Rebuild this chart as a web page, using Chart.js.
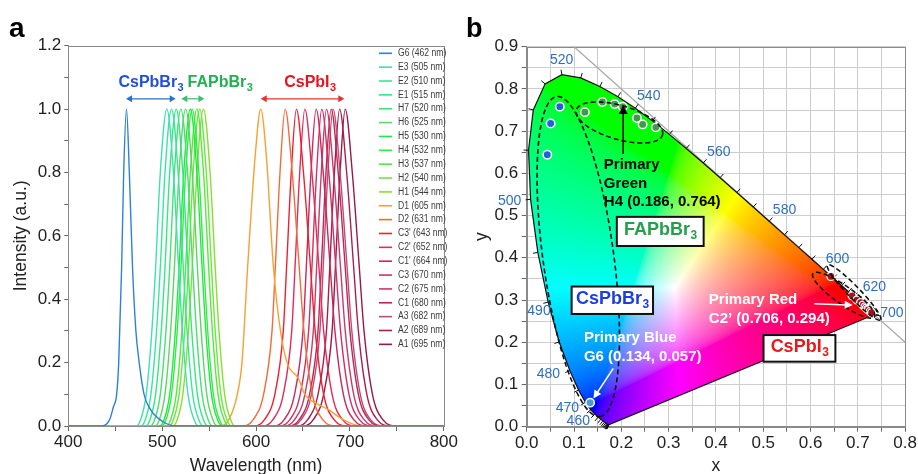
<!DOCTYPE html>
<html>
<head>
<meta charset="utf-8">
<script src="https://cdn.jsdelivr.net/npm/chart.js@4.4.1/dist/chart.umd.min.js"></script>
<style>
  html, body { margin: 0; padding: 0; background: #fff; }
  #wrap { position: relative; width: 918px; height: 474px; overflow: hidden; background: #fff; }
  canvas { position: absolute; top: 0; }
  #ca { left: 0; }
  #cb { left: 459px; }
</style>
</head>
<body>
<div id="wrap">
  <canvas id="ca" width="459" height="474"></canvas>
  <canvas id="cb" width="459" height="474"></canvas>
</div>
<script>
// ---------- Panel a: normalised PL spectra ----------
const SAMPLE_NAMES = ['G6', 'E3', 'E2', 'E1', 'H7', 'H6', 'H5', 'H4', 'H3', 'H2', 'H1',
  'D1', 'D2', "C3'", "C2'", "C1'", 'C3', 'C2', 'C1', 'A3', 'A2', 'A1'];
const PEAK_NM = [462, 505, 510, 515, 520, 525, 530, 532, 537, 540, 544,
  605, 631, 643, 652, 664, 670, 675, 680, 682, 689, 695];

// intensity levels at which each spectrum's wavelength is listed
const LEVELS = [0, 0.02, 0.1, 0.3, 0.5, 0.8, 1, 0.8, 0.5, 0.3, 0.1, 0.02, 0];
const G6_I = [0, 0.02, 0.06, 0.1, 0.2, 0.5, 0.8, 1, 0.8, 0.5, 0.3, 0.2, 0.1, 0.05, 0.015, 0];
const D1_I = [0, 0.02, 0.1, 0.2, 0.5, 0.85, 1, 0.85, 0.5, 0.3, 0.2, 0.15, 0.1, 0.07, 0.05, 0.025, 0.01, 0];

const CURVE_NM = [
  [436, 444, 448, 451.5, 453.7, 456.8, 459, 462, 465, 468.4, 472, 475.5, 480.7, 488, 500, 515],
  [472, 477, 483, 489, 493, 498, 505, 512, 517.5, 521.5, 527.5, 534, 539],
  [477, 482, 488, 494, 498, 503, 510, 517, 522.5, 526.5, 532.5, 539, 544],
  [482, 487, 493, 499, 503, 508, 515, 522, 527.5, 531.5, 537.5, 544, 549],
  [487, 492, 498, 504, 508, 513, 520, 527, 532.5, 536.5, 542.5, 549, 554],
  [492, 497, 503, 509, 513, 518, 525, 532, 537.5, 541.5, 547.5, 554, 559],
  [497, 502, 508, 514, 518, 523, 530, 537, 542.5, 546.5, 552.5, 559, 564],
  [499, 504, 510, 516, 520, 525, 532, 539, 544.5, 548.5, 554.5, 561, 566],
  [504, 509, 515, 521, 525, 530, 537, 544, 549.5, 553.5, 559.5, 566, 571],
  [507, 512, 518, 524, 528, 533, 540, 547, 552.5, 556.5, 562.5, 569, 574],
  [511, 516, 522, 528, 532, 537, 544, 551, 556.5, 560.5, 566.5, 573, 578],
  [560, 571, 580, 585, 591, 599, 605, 611, 618.5, 626, 633, 645, 652, 665, 678, 690, 700, 712],
  [586, 597, 608, 617, 620.5, 625.5, 631, 638.5, 646, 651, 660, 671, 686],
  [598, 609, 620, 629, 632.5, 637.5, 643, 650.5, 658, 663, 672, 683, 698],
  [607, 618, 629, 638, 641.5, 646.5, 652, 659.5, 667, 672, 681, 692, 707],
  [619, 630, 641, 650, 653.5, 658.5, 664, 671.5, 679, 684, 693, 704, 719],
  [625, 636, 647, 656, 659.5, 664.5, 670, 677.5, 685, 690, 699, 710, 725],
  [630, 641, 652, 661, 664.5, 669.5, 675, 682.5, 690, 695, 704, 715, 730],
  [635, 646, 657, 666, 669.5, 674.5, 680, 687.5, 695, 700, 709, 720, 735],
  [637, 648, 659, 668, 671.5, 676.5, 682, 689.5, 697, 702, 711, 722, 737],
  [644, 655, 666, 675, 678.5, 683.5, 689, 696.5, 704, 709, 718, 729, 744],
  [650, 661, 672, 681, 684.5, 689.5, 695, 702.5, 710, 715, 724, 735, 750]
];
const CURVE_I = CURVE_NM.map((_, i) => i === 0 ? G6_I : (i === 11 ? D1_I : LEVELS));

const LINE_COLORS = ['#2f80d8', '#3ee0b0', '#38e69a', '#30ea80', '#44e070', '#5fd462', '#22e648',
  '#2cf03a', '#52ea3c', '#6ee640', '#86e030', '#f8a030', '#f46a3a', '#ee2030', '#e02c58',
  '#c8285a', '#d22f62', '#c83a68', '#b82850', '#c04a78', '#a82048', '#981848'];

// family ranges (nm) marked by the double arrows
const FAMILY_NAMES = ['CsPbBr', 'FAPbBr', 'CsPbI'];
const FAMILY_FROM_NM = [461.5, 520.4, 605];
const FAMILY_TO_NM = [514.4, 545, 694];

// ---------- Panel b: CIE 1931 chromaticity ----------
const LOCUS_NM = [380, 385, 390, 395, 400, 405, 410, 415, 420, 425, 430, 435, 440, 445, 450, 455, 460, 465,
  470, 475, 480, 485, 490, 495, 500, 505, 510, 515, 520, 525, 530, 535, 540, 545, 550, 555, 560, 565,
  570, 575, 580, 585, 590, 595, 600, 605, 610, 615, 620, 625, 630, 635, 640, 645, 650, 655, 660, 665,
  670, 675, 680, 685, 690, 695, 700];
const LOCUS_X = [0.1741, 0.1740, 0.1738, 0.1736, 0.1733, 0.1730, 0.1726, 0.1721, 0.1714, 0.1703, 0.1689,
  0.1669, 0.1644, 0.1611, 0.1566, 0.1510, 0.1440, 0.1355, 0.1241, 0.1096, 0.0913, 0.0687, 0.0454,
  0.0235, 0.0082, 0.0039, 0.0139, 0.0389, 0.0743, 0.1142, 0.1547, 0.1929, 0.2296, 0.2658, 0.3016,
  0.3373, 0.3731, 0.4087, 0.4441, 0.4788, 0.5125, 0.5448, 0.5752, 0.6029, 0.6270, 0.6482, 0.6658,
  0.6801, 0.6915, 0.7006, 0.7079, 0.7140, 0.7190, 0.7230, 0.7260, 0.7283, 0.7300, 0.7311, 0.7320,
  0.7327, 0.7334, 0.7340, 0.7344, 0.7346, 0.7347];
const LOCUS_Y = [0.0050, 0.0050, 0.0049, 0.0049, 0.0048, 0.0048, 0.0048, 0.0048, 0.0051, 0.0058, 0.0069,
  0.0086, 0.0109, 0.0138, 0.0177, 0.0227, 0.0297, 0.0399, 0.0578, 0.0868, 0.1327, 0.2007, 0.2950,
  0.4127, 0.5384, 0.6548, 0.7502, 0.8120, 0.8338, 0.8262, 0.8059, 0.7816, 0.7543, 0.7243, 0.6923,
  0.6589, 0.6245, 0.5896, 0.5547, 0.5202, 0.4866, 0.4544, 0.4242, 0.3965, 0.3725, 0.3514, 0.3340,
  0.3197, 0.3083, 0.2993, 0.2920, 0.2859, 0.2809, 0.2770, 0.2740, 0.2717, 0.2700, 0.2689, 0.2680,
  0.2673, 0.2666, 0.2660, 0.2656, 0.2654, 0.2653];

// colour coordinates of the emitters
const CSPBBR_X = [0.134, 0.0435, 0.0506, 0.070];
const CSPBBR_Y = [0.057, 0.644, 0.718, 0.758];
const FAPBBR_X = [0.123, 0.160, 0.186, 0.203, 0.233, 0.245, 0.273];
const FAPBBR_Y = [0.745, 0.769, 0.764, 0.758, 0.731, 0.716, 0.709];
const CSPBI_X = [0.643, 0.688, 0.698, 0.706, 0.711, 0.715, 0.718, 0.721, 0.722, 0.726, 0.729];
const CSPBI_Y = [0.356, 0.310, 0.300, 0.294, 0.288, 0.284, 0.281, 0.278, 0.277, 0.273, 0.270];

// wavelength captions along the locus
const WL_LABELS = ['520', '540', '560', '580', '600', '620', '700', '500', '490', '480', '470', '460'];
const WL_LABEL_X = [0.074, 0.258, 0.406, 0.545, 0.657, 0.735, 0.772, -0.036, 0.026, 0.046, 0.086, 0.109];
const WL_LABEL_Y = [0.867, 0.782, 0.650, 0.514, 0.397, 0.330, 0.268, 0.535, 0.273, 0.125, 0.044, 0.012];

const FONT = '"Liberation Sans", Arial, Helvetica, sans-serif';
Chart.defaults.font.family = FONT;
Chart.defaults.color = '#222';

// ---------- drawing helpers ----------
function chem(ctx, x, y, main, sub, size, color, align) {
  ctx.save();
  ctx.fillStyle = color;
  ctx.textBaseline = 'middle';
  ctx.textAlign = 'left';
  const fMain = `bold ${size}px ${FONT}`;
  const fSub = `bold ${Math.round(size * 0.68)}px ${FONT}`;
  ctx.font = fMain;
  const w1 = ctx.measureText(main).width;
  ctx.font = fSub;
  const w2 = ctx.measureText(sub).width;
  const x0 = align === 'center' ? x - (w1 + w2) / 2 : x;
  ctx.font = fMain;
  ctx.fillText(main, x0, y);
  ctx.font = fSub;
  ctx.fillText(sub, x0 + w1 + 0.5, y + size * 0.3);
  ctx.restore();
}

function arrowHead(ctx, x, y, a, hl, hw) {
  const c = Math.cos(a), s = Math.sin(a);
  ctx.beginPath();
  ctx.moveTo(x, y);
  ctx.lineTo(x - hl * c + hw * s, y - hl * s - hw * c);
  ctx.lineTo(x - hl * c - hw * s, y - hl * s + hw * c);
  ctx.closePath();
  ctx.fill();
}

function arrow(ctx, x1, y1, x2, y2, color, lw, hl, hw, both) {
  const a = Math.atan2(y2 - y1, x2 - x1);
  const c = Math.cos(a), s = Math.sin(a);
  ctx.save();
  ctx.strokeStyle = color;
  ctx.fillStyle = color;
  ctx.lineWidth = lw;
  ctx.setLineDash([]);
  ctx.beginPath();
  ctx.moveTo(both ? x1 + c * hl * 0.7 : x1, both ? y1 + s * hl * 0.7 : y1);
  ctx.lineTo(x2 - c * hl * 0.7, y2 - s * hl * 0.7);
  ctx.stroke();
  arrowHead(ctx, x2, y2, a, hl, hw);
  if (both) arrowHead(ctx, x1, y1, a + Math.PI, hl, hw);
  ctx.restore();
}

function frame(ctx, a, color) {
  ctx.save();
  ctx.strokeStyle = color;
  ctx.lineWidth = 1;
  ctx.strokeRect(Math.round(a.left) + 0.5, Math.round(a.top) + 0.5,
    Math.round(a.right) - Math.round(a.left), Math.round(a.bottom) - Math.round(a.top));
  ctx.restore();
}

// ---------- panel a ----------
function buildSpectrum(nm, inten) {
  const pts = [{ x: 400, y: 0 }];
  nm.forEach((w, k) => pts.push({ x: w, y: inten[k] }));
  pts.push({ x: 800, y: 0 });
  return pts;
}

const spectraDecor = {
  id: 'spectraDecor',
  afterDraw(chart) {
    const { ctx, chartArea: a, scales: { x, y } } = chart;
    frame(ctx, a, '#8a8a8a');

    // family captions and range arrows
    const famColors = ['#1f4fe0', '#22b050', '#e8141c'];
    const arrColors = ['#2a70d0', '#3cc070', '#e83030'];
    const textLeftNm = [453.4, 527, 630];
    const yArr = y.getPixelForValue(1.0325);
    const yTxt = y.getPixelForValue(1.083);
    FAMILY_NAMES.forEach((nm, i) => {
      chem(ctx, x.getPixelForValue(textLeftNm[i]), yTxt, nm, '3', 16, famColors[i], 'left');
      arrow(ctx, x.getPixelForValue(FAMILY_FROM_NM[i]), yArr, x.getPixelForValue(FAMILY_TO_NM[i]), yArr,
        arrColors[i], 1.2, 6, 3.5, true);
    });

    // legend
    ctx.save();
    chart.data.datasets.forEach((ds, i) => {
      const yy = 53.3 + i * 13.86;
      ctx.strokeStyle = ds.borderColor;
      ctx.lineWidth = 1.6;
      ctx.beginPath();
      ctx.moveTo(379, yy);
      ctx.lineTo(392, yy);
      ctx.stroke();
      ctx.save();
      ctx.translate(398, yy);
      ctx.scale(0.86, 1);
      ctx.fillStyle = '#3a3a3a';
      ctx.font = `10px ${FONT}`;
      ctx.textBaseline = 'middle';
      ctx.textAlign = 'left';
      ctx.fillText(ds.label, 0, 0);
      ctx.restore();
    });
    ctx.restore();

    // panel letter
    ctx.save();
    ctx.fillStyle = '#000';
    ctx.font = `bold 28px ${FONT}`;
    ctx.textBaseline = 'alphabetic';
    ctx.fillText('a', 9, 37);
    ctx.restore();
  }
};

new Chart(document.getElementById('ca'), {
  type: 'line',
  data: {
    datasets: SAMPLE_NAMES.map((n, i) => ({
      label: `${n} (${PEAK_NM[i]} nm)`,
      data: buildSpectrum(CURVE_NM[i], CURVE_I[i]),
      borderColor: LINE_COLORS[i],
      borderWidth: 1.4,
      pointRadius: 0,
      fill: false,
      cubicInterpolationMode: 'monotone'
    }))
  },
  options: {
    responsive: false,
    animation: false,
    devicePixelRatio: 1,
    layout: { padding: { left: 0, right: 10.7, top: 45.7, bottom: 0 } },
    plugins: { legend: { display: false }, tooltip: { enabled: false } },
    scales: {
      x: {
        type: 'linear', min: 400, max: 800,
        afterFit: s => { s.height = 48; },
        ticks: {
          stepSize: 50, autoSkip: false, maxRotation: 0, padding: 1,
          font: { size: 17 }, color: '#222',
          callback: v => (v % 100 === 0 ? String(v) : '')
        },
        grid: { drawOnChartArea: false, drawTicks: true, tickLength: 5, tickColor: '#666' },
        border: { display: true, color: '#8a8a8a' },
        title: { display: true, text: 'Wavelength (nm)', color: '#222',
          font: { size: 17.5, lineHeight: 1.2 }, padding: { top: 0, bottom: -2.5 } }
      },
      y: {
        type: 'linear', min: 0, max: 1.2,
        afterFit: s => { s.width = 68.3; },
        ticks: {
          stepSize: 0.1, autoSkip: false, padding: 3,
          font: { size: 17 }, color: '#222',
          callback: v => (Math.round(v * 10) % 2 === 0 ? v.toFixed(1) : '')
        },
        grid: { drawOnChartArea: false, drawTicks: true, tickLength: 4, tickColor: '#666' },
        border: { display: true, color: '#8a8a8a' },
        title: { display: true, text: 'Intensity (a.u.)', color: '#222',
          font: { size: 17.5, lineHeight: 1.2 }, padding: { top: 10.5, bottom: 0 } }
      }
    }
  },
  plugins: [spectraDecor]
});

// ---------- panel b ----------
function gammaEnc(v) {
  return v <= 0.0031308 ? 12.92 * v : 1.055 * Math.pow(v, 1 / 2.4) - 0.055;
}
function chromaRGB(cx, cy) {
  cy = Math.max(cy, 0.001);
  const X = cx / cy, Y = 1, Z = (1 - cx - cy) / cy;
  let r = 3.2406 * X - 1.5372 * Y - 0.4986 * Z;
  let g = -0.9689 * X + 1.8758 * Y + 0.0415 * Z;
  let b = 0.0557 * X - 0.2040 * Y + 1.0570 * Z;
  r = Math.max(r, 0); g = Math.max(g, 0); b = Math.max(b, 0);
  const m = Math.max(r, g, b) || 1;
  return [gammaEnc(r / m) * 255, gammaEnc(g / m) * 255, gammaEnc(b / m) * 255];
}

function locusPath(xs, ys) {
  const p = new Path2D();
  LOCUS_X.forEach((lx, k) => {
    const px = xs.getPixelForValue(lx), py = ys.getPixelForValue(LOCUS_Y[k]);
    if (k === 0) p.moveTo(px, py); else p.lineTo(px, py);
  });
  p.closePath();
  return p;
}

let cieCache = null;
function cieImage(chart) {
  if (cieCache) return cieCache;
  const a = chart.chartArea, xs = chart.scales.x, ys = chart.scales.y;
  const L = Math.floor(a.left), T = Math.floor(a.top);
  const W = Math.ceil(a.right) - L, H = Math.ceil(a.bottom) - T;
  const off = document.createElement('canvas');
  off.width = W; off.height = H;
  const octx = off.getContext('2d');
  const img = octx.createImageData(W, H);
  for (let j = 0; j < H; j++) {
    const cy = ys.getValueForPixel(T + j + 0.5);
    for (let i = 0; i < W; i++) {
      const cx = xs.getValueForPixel(L + i + 0.5);
      const c = chromaRGB(cx, cy);
      const k = (j * W + i) * 4;
      img.data[k] = c[0]; img.data[k + 1] = c[1]; img.data[k + 2] = c[2]; img.data[k + 3] = 255;
    }
  }
  octx.putImageData(img, 0, 0);
  cieCache = { off, L, T };
  return cieCache;
}

const ELLIPSES = [
  { c: [0.109, 0.403], u: [0.0457, -0.379], v: [0.0742, 0.0113] },
  { c: [0.196, 0.7205], u: [0.091, -0.0295], v: [0.0099, 0.0386] },
  { c: [0.670, 0.3115], u: [0.065, -0.0515], v: [0.0109, 0.0174] },
  { c: [0.692, 0.318], u: [0.056, -0.065], v: [0.0091, 0.0099] }
];

const cieDecor = {
  id: 'cieDecor',
  beforeDatasetsDraw(chart) {
    const { ctx, chartArea: a, scales: { x: xs, y: ys } } = chart;
    frame(ctx, a, '#8a8a8a');

    // x + y = 1 reference line
    ctx.save();
    ctx.strokeStyle = '#a8a8a8';
    ctx.lineWidth = 1.2;
    ctx.beginPath();
    ctx.moveTo(xs.getPixelForValue(0.1), ys.getPixelForValue(0.9));
    ctx.lineTo(xs.getPixelForValue(0.8), ys.getPixelForValue(0.2));
    ctx.stroke();
    ctx.restore();

    // gamut fill
    const path = locusPath(xs, ys);
    const im = cieImage(chart);
    ctx.save();
    ctx.clip(path);
    ctx.drawImage(im.off, im.L, im.T);
    ctx.restore();

    ctx.save();
    ctx.strokeStyle = '#111';
    ctx.lineWidth = 1.2;
    ctx.stroke(path);

    // wavelength ticks on the locus
    const wx = xs.getPixelForValue(0.33), wy = ys.getPixelForValue(0.33);
    ctx.lineWidth = 1;
    for (let k = 0; k < LOCUS_NM.length; k++) {
      const px = xs.getPixelForValue(LOCUS_X[k]), py = ys.getPixelForValue(LOCUS_Y[k]);
      const k0 = Math.max(0, k - 1), k1 = Math.min(LOCUS_NM.length - 1, k + 1);
      let tx = xs.getPixelForValue(LOCUS_X[k1]) - xs.getPixelForValue(LOCUS_X[k0]);
      let ty = ys.getPixelForValue(LOCUS_Y[k1]) - ys.getPixelForValue(LOCUS_Y[k0]);
      let nx, ny;
      const len = Math.hypot(tx, ty);
      if (len < 0.6) {
        nx = px - wx; ny = py - wy;
      } else {
        nx = -ty; ny = tx;
        if (nx * (px - wx) + ny * (py - wy) < 0) { nx = -nx; ny = -ny; }
      }
      const nl = Math.hypot(nx, ny) || 1;
      nx /= nl; ny /= nl;
      ctx.beginPath();
      ctx.moveTo(px, py);
      ctx.lineTo(px + nx * 5, py + ny * 5);
      ctx.stroke();
    }
    ctx.restore();
  },
  afterDatasetsDraw(chart) {
    const { ctx, scales: { x: xs, y: ys } } = chart;
    const X = v => xs.getPixelForValue(v), Y = v => ys.getPixelForValue(v);

    // dashed group outlines
    ctx.save();
    ctx.strokeStyle = '#111';
    ctx.lineWidth = 1.6;
    ctx.setLineDash([5, 3]);
    ELLIPSES.forEach(e => {
      ctx.beginPath();
      for (let k = 0; k <= 96; k++) {
        const t = k / 96 * Math.PI * 2;
        const dx = e.c[0] + e.u[0] * Math.cos(t) + e.v[0] * Math.sin(t);
        const dy = e.c[1] + e.u[1] * Math.cos(t) + e.v[1] * Math.sin(t);
        if (k === 0) ctx.moveTo(X(dx), Y(dy)); else ctx.lineTo(X(dx), Y(dy));
      }
      ctx.closePath();
      ctx.stroke();
    });
    ctx.restore();

    // wavelength captions
    ctx.save();
    ctx.fillStyle = '#2f6fc0';
    ctx.font = `14px ${FONT}`;
    ctx.textAlign = 'center';
    ctx.textBaseline = 'middle';
    WL_LABELS.forEach((t, i) => ctx.fillText(t, X(WL_LABEL_X[i]), Y(WL_LABEL_Y[i])));
    ctx.restore();

    // boxed family names
    const boxes = [
      { x0: 0.1905, x1: 0.374, y0: 0.497, y1: 0.428, main: 'FAPbBr', color: '#22a04a' },
      { x0: 0.095, x1: 0.267, y0: 0.332, y1: 0.267, main: 'CsPbBr', color: '#1a3ee0' },
      { x0: 0.5006, x1: 0.6525, y0: 0.217, y1: 0.154, main: 'CsPbI', color: '#e81818' }
    ];
    boxes.forEach(b => {
      const l = X(b.x0), r = X(b.x1), t = Y(b.y0), bt = Y(b.y1);
      ctx.save();
      ctx.fillStyle = '#fff';
      ctx.fillRect(l, t, r - l, bt - t);
      ctx.strokeStyle = '#111';
      ctx.lineWidth = 2;
      ctx.strokeRect(l, t, r - l, bt - t);
      ctx.restore();
      chem(ctx, (l + r) / 2, (t + bt) / 2 - 1, b.main, '3', 18, b.color, 'center');
    });

    // primary colour callouts
    const callouts = [
      { x: 0.163, ys: [0.620, 0.575, 0.532], lines: ['Primary', 'Green', 'H4 (0.186, 0.764)'], color: '#000' },
      { x: 0.121, ys: [0.211, 0.166], lines: ['Primary Blue', 'G6 (0.134, 0.057)'], color: '#fff' },
      { x: 0.385, ys: [0.300, 0.2545], lines: ['Primary Red', 'C2\u2019 (0.706, 0.294)'], color: '#fff' }
    ];
    ctx.save();
    ctx.font = `bold 15px ${FONT}`;
    ctx.textAlign = 'left';
    ctx.textBaseline = 'middle';
    callouts.forEach(c => {
      ctx.fillStyle = c.color;
      c.lines.forEach((ln, k) => ctx.fillText(ln, X(c.x), Y(c.ys[k])));
    });
    ctx.restore();

    arrow(ctx, X(0.204), Y(0.646), X(0.204), Y(0.762), '#000', 1.6, 9, 4.5, false);
    arrow(ctx, X(0.183), Y(0.138), X(0.141), Y(0.067), '#fff', 1.5, 8, 4, false);
    arrow(ctx, X(0.608), Y(0.291), X(0.689), Y(0.288), '#fff', 1.5, 8, 4, false);

    // panel letter
    ctx.save();
    ctx.fillStyle = '#000';
    ctx.font = `bold 27px ${FONT}`;
    ctx.textBaseline = 'alphabetic';
    ctx.fillText('b', 7, 37);
    ctx.restore();
  }
};

const toPts = (xa, ya) => xa.map((v, i) => ({ x: v, y: ya[i] }));

new Chart(document.getElementById('cb'), {
  type: 'scatter',
  data: {
    datasets: [
      {
        label: 'CsPbBr3',
        data: toPts(CSPBBR_X, CSPBBR_Y),
        backgroundColor: ['#4a9ae0', '#1e62d8', '#1e62d8', '#1e62d8'],
        borderColor: '#fff', borderWidth: 1.5, pointRadius: 4.2
      },
      {
        label: 'FAPbBr3',
        data: toPts(FAPBBR_X, FAPBBR_Y),
        backgroundColor: '#3c9c48', borderColor: '#fff', borderWidth: 1.5, pointRadius: 4.2
      },
      {
        label: 'CsPbI3',
        data: toPts(CSPBI_X, CSPBI_Y),
        backgroundColor: '#a81020', borderColor: '#fff', borderWidth: 1.3, pointRadius: 4
      }
    ]
  },
  options: {
    responsive: false,
    animation: false,
    devicePixelRatio: 1,
    layout: { padding: { left: 0, right: 12.3, top: 46.7, bottom: 0 } },
    plugins: { legend: { display: false }, tooltip: { enabled: false } },
    scales: {
      x: {
        type: 'linear', min: 0, max: 0.8,
        afterFit: s => { s.height = 47.3; },
        ticks: {
          stepSize: 0.05, autoSkip: false, maxRotation: 0, padding: 1,
          font: { size: 17 }, color: '#222',
          callback: v => (Math.abs(v * 10 - Math.round(v * 10)) < 1e-6 ? v.toFixed(1) : '')
        },
        grid: { color: '#cdcdcd', lineWidth: 1, drawTicks: true, tickLength: 5, tickColor: '#666' },
        border: { display: true, color: '#8a8a8a' },
        title: { display: true, text: 'x', color: '#222',
          font: { size: 17.5, lineHeight: 1.2 }, padding: { top: 0, bottom: -3 } }
      },
      y: {
        type: 'linear', min: 0, max: 0.9,
        afterFit: s => { s.width = 67.7; },
        ticks: {
          stepSize: 0.05, autoSkip: false, padding: 3.5,
          font: { size: 17 }, color: '#222',
          callback: v => (Math.abs(v * 10 - Math.round(v * 10)) < 1e-6 ? v.toFixed(1) : '')
        },
        grid: { color: '#cdcdcd', lineWidth: 1, drawTicks: true, tickLength: 5, tickColor: '#666' },
        border: { display: true, color: '#8a8a8a' },
        title: { display: true, text: 'y', color: '#222',
          font: { size: 17.5, lineHeight: 1.2 }, padding: { top: 12.5, bottom: 0 } }
      }
    }
  },
  plugins: [cieDecor]
});
</script>
</body>
</html>
